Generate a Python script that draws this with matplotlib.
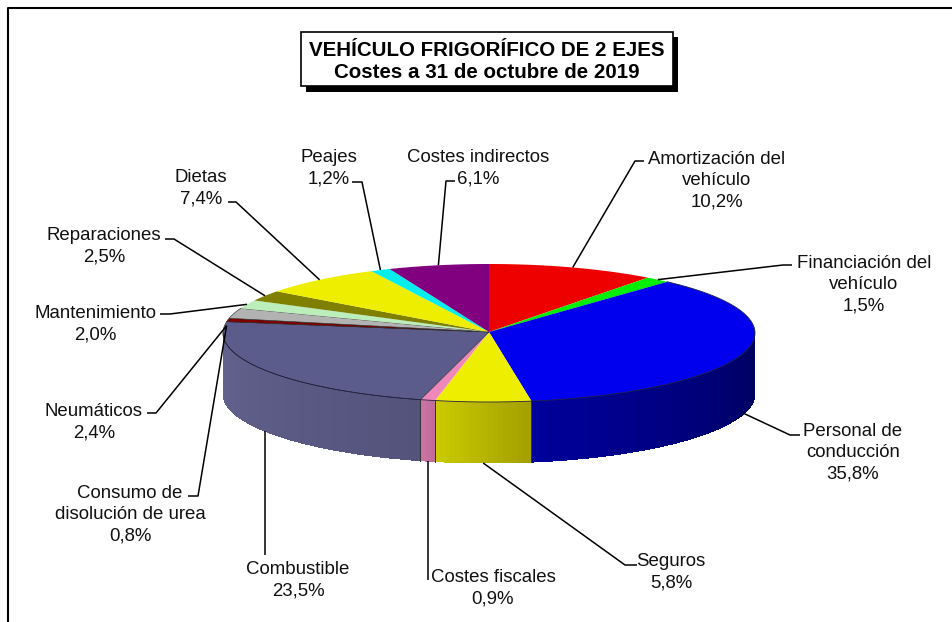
import numpy as np
import matplotlib
matplotlib.use('Agg')
import matplotlib.pyplot as plt
from matplotlib.patches import Polygon, Rectangle

plt.rcParams['font.family'] = ['Liberation Sans', 'DejaVu Sans']

# slices, clockwise from twelve o'clock
names = ['Amortización del\nvehículo', 'Financiación del\nvehículo', 'Personal de\nconducción',
         'Seguros', 'Costes fiscales', 'Combustible', 'Consumo de\ndisolución de urea',
         'Neumáticos', 'Mantenimiento', 'Reparaciones', 'Dietas', 'Peajes', 'Costes indirectos']
shares = [10.2, 1.5, 35.8, 5.8, 0.9, 23.5, 0.8, 2.4, 2.0, 2.5, 7.4, 1.2, 6.1]

top_colors = ['#ee0000', '#00ee00', '#0000ee', '#eeee00', '#ee88bb', '#5c5c8c', '#800000',
              '#b2b2b2', '#bbeebb', '#808000', '#eeee00', '#00eeee', '#800080']
side_left = {'Personal de\nconducción': '#00009c', 'Seguros': '#cccc00',
             'Costes fiscales': '#cc77a5', 'Combustible': '#63638f'}
side_right = {'Personal de\nconducción': '#00005a', 'Seguros': '#a3a000',
              'Costes fiscales': '#c06c9c', 'Combustible': '#53537c'}

title_lines = ['VEHÍCULO FRIGORÍFICO DE 2 EJES', 'Costes a 31 de octubre de 2019']

# label centre (x, y of first line), pixels
label_pos = [(717, 159), (864, 263), (853, 431), (671, 561), (493, 578), (298, 570), (130, 493),
             (94, 411), (95, 313), (104, 236), (201, 177), (329, 158), (478, 157)]
# leader start and elbow, pixels; None keeps the leader vertical
leader_pts = [[(644, 161), (635, 161)], [(792, 265), (783, 265)], [(800, 435), (790, 435)],
              [(637, 565), (625, 565)], [(None, 580)], [(None, 555)],
              [(188, 496), (198, 496)], [(147, 413), (156, 413)], [(160, 314), (170, 314)],
              [(165, 239), (174, 239)], [(228, 202), (236, 202)], [(352, 182), (362, 182)],
              [(455, 181), (446, 181)]]

cx, cy = 489, 333
rx, ry = 266, 69
apex_y = 332
depth = 61


def rim(deg):
    t = np.radians(deg)
    return cx + rx * np.sin(t), cy - ry * np.cos(t)


fig = plt.figure(figsize=(9.52, 6.22), dpi=100)
ax = fig.add_axes([0, 0, 1, 1])
ax.set_xlim(0, 952)
ax.set_ylim(622, 0)
ax.axis('off')

# frame
ax.plot([8, 8, 952], [622, 7.5, 7.5], color='black', lw=1.5, zorder=1)

edges = np.cumsum([0] + shares) / sum(shares) * 360

# side wall, only the part facing the viewer
for i, name in enumerate(names):
    a0, a1 = max(edges[i], 90), min(edges[i + 1], 270)
    if a1 <= a0 or name not in side_left:
        continue
    c0 = np.array(matplotlib.colors.to_rgb(side_left[name]))
    c1 = np.array(matplotlib.colors.to_rgb(side_right[name]))
    steps = np.linspace(a0, a1, max(int(a1 - a0), 2) + 1)
    for s0, s1 in zip(steps[:-1], steps[1:]):
        frac = 1 - (s0 - a0) / (a1 - a0)
        col = c0 + (c1 - c0) * frac
        arc = np.linspace(s0, s1 + 0.2, 5)
        x, y = rim(arc)
        poly = np.r_[np.c_[x, y], np.c_[x[::-1], y[::-1] + depth]]
        ax.add_patch(Polygon(poly, fc=col, ec='none', antialiased=False, zorder=2))
    x0, y0 = rim(edges[i + 1])
    if edges[i + 1] < 270:
        ax.plot([x0, x0], [y0, y0 + depth], color='#333333', lw=0.7, zorder=3)

# top face
for i, col in enumerate(top_colors):
    arc = np.linspace(edges[i], edges[i + 1], max(int(shares[i] * 3.6), 2) + 1)
    x, y = rim(arc)
    poly = np.r_[[[cx, apex_y]], np.c_[x, y]]
    ax.add_patch(Polygon(poly, fc=col, ec='#222222' if i in (5, 6, 7) else 'none', lw=0.4, zorder=4))

# seam along the front of the top face
arc = np.linspace(edges[2], 270, 200)
x, y = rim(arc)
ax.plot(x, y, color='#222244', lw=0.6, zorder=5)

# leaders and labels
for i, name in enumerate(names):
    mid = (edges[i] + edges[i + 1]) / 2
    ex, ey = rim(mid)
    if 90 < mid < 270:
        ey += depth
    if name == 'Neumáticos' or name.startswith('Consumo'):
        ex, ey = rim(edges[i]) if name.startswith('Consumo') else rim(edges[i - 1])
        ey += 4
    pts = [(ex if p[0] is None else p[0], p[1]) for p in leader_pts[i]] + [(ex, ey)]
    ax.plot([p[0] for p in pts], [p[1] for p in pts], color='black', lw=1.1, zorder=6,
            solid_capstyle='butt')
    lx, ly = label_pos[i]
    lines = name.split('\n') + ['%.1f%%' % shares[i]]
    for k, line in enumerate(lines):
        ax.text(lx, ly + k * 21.5, line.replace('.', ','), ha='center', va='center', fontsize=13.4,
                color='#111111', zorder=7)

# title box with its shadow
ax.add_patch(Rectangle((306, 37), 372, 55, fc='black', ec='none', zorder=8))
ax.add_patch(Rectangle((301, 32), 372, 54, fc='white', ec='black', lw=1.2, zorder=9))
ax.text(487, 50, title_lines[0], ha='center', va='center', fontsize=14.8, fontweight='bold', zorder=10)
ax.text(487, 73, title_lines[1], ha='center', va='center', fontsize=14.8, fontweight='bold', zorder=10)

fig.savefig('out.png', dpi=100)
